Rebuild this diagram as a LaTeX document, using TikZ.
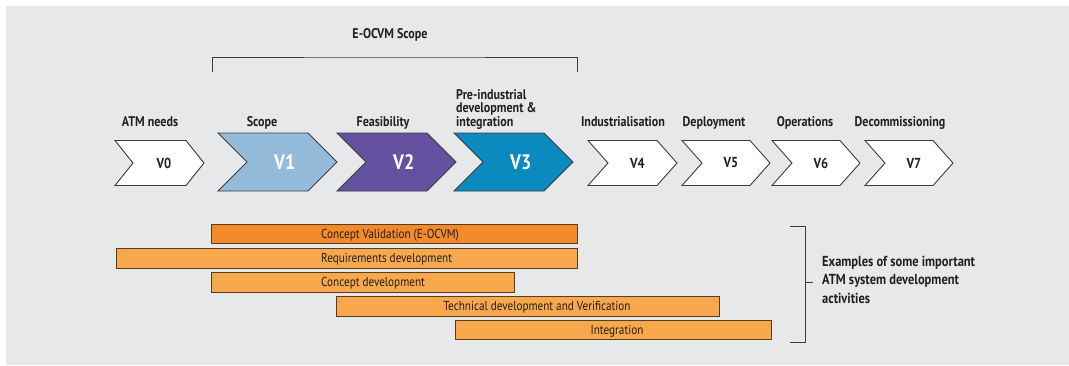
\documentclass[tikz,border=0pt]{standalone}
\usepackage{fontspec}
\setmainfont{PT Sans}[FakeStretch=0.86]
\usetikzlibrary{positioning}

\definecolor{panel}{HTML}{E7E8EA}
\definecolor{edge}{HTML}{3C3C3C}
\definecolor{vlight}{HTML}{94BBDA}
\definecolor{vpurple}{HTML}{6452A0}
\definecolor{vteal}{HTML}{0A8ABF}
\definecolor{bardark}{HTML}{F28A2A}
\definecolor{barlight}{HTML}{F8A84C}
\definecolor{barline}{HTML}{5A3C1E}
\definecolor{ink}{HTML}{231F20}

% #1 name, #2 left x, #3 tip x, #4 top y, #5 bottom y, #6 depth, #7 style, #8 label
\newcommand{\chevronpath}[8]{%
  \draw[#7] (#2,#4) -- ({#3-#6},#4) -- (#3,{(#4+#5)/2}) -- ({#3-#6},#5)
    -- (#2,#5) -- ({#2+#6},{(#4+#5)/2}) -- cycle;
  \node[chevlabel] (#1) at ({(#2+#3)/2+#6/4},{(#4+#5)/2}) {#8};
}

\tikzset{
  chevsmall/.style={draw=edge, line width=0.9pt, fill=white, line join=miter},
  chevbig/.style={draw=edge, line width=0.9pt, line join=miter},
  chevlabel/.style={inner sep=0pt, font=\bfseries},
  phase/.style={anchor=base, inner sep=0pt, font=\fontsize{14}{14}\selectfont\bfseries, text=ink},
  bar/.style={draw=barline, line width=0.9pt, fill=barlight},
  bartext/.style={anchor=base, inner sep=0pt, font=\fontsize{13}{13}\selectfont, text=ink},
  bracketline/.style={draw=edge, line width=0.9pt},
}

\begin{document}
\begin{tikzpicture}[x=1pt, y=-1pt]
\useasboundingbox (0,0) rectangle (1069,365);
\fill[white] (0,0) rectangle (1069,365);
\fill[panel] (6,6) rectangle (1069,365);

% scope bracket over V1..V3
\node[phase] (scope) at (390,38) {E-OCVM Scope};
\coordinate (sl) at (212,72);
\coordinate (sr) at (577,72);
\draw[bracketline] (sl) |- (394.5,57) -| (sr);

% phase labels
\node[phase] (l0) at (150,126) {ATM needs};
\node[phase] (l1) at (262,126) {Scope};
\node[phase] (l2) at (383,126) {Feasibility};
\node[phase, anchor=base west, align=left, font=\fontsize{14}{13.5}\selectfont\bfseries] (l3) at (456,126)
  {Pre-industrial\\development \&\\integration};
\node[phase] (l4) at (623,126) {Industrialisation};
\node[phase] (l5) at (714,126) {Deployment};
\node[phase] (l6) at (805,126) {Operations};
\node[phase] (l7) at (900,126) {Decommissioning};

% phase chevrons
\chevronpath{v0}{115}{204}{140.5}{185.5}{18}{chevsmall}{\fontsize{14.5}{14}\selectfont\color{ink}V0}
\chevronpath{v1}{218}{337}{133}{191}{29}{chevbig, fill=vlight}{\fontsize{21}{21}\selectfont\color{white}V1}
\chevronpath{v2}{337}{456}{133}{191}{29}{chevbig, fill=vpurple}{\fontsize{21}{21}\selectfont\color{white}V2}
\chevronpath{v3}{454}{573}{133}{191}{29}{chevbig, fill=vteal}{\fontsize{21}{21}\selectfont\color{white}V3}
\chevronpath{v4}{588}{677}{140.5}{185.5}{20}{chevsmall}{\fontsize{14.5}{14}\selectfont\color{ink}V4}
\chevronpath{v5}{682}{770}{140.5}{185.5}{20}{chevsmall}{\fontsize{14.5}{14}\selectfont\color{ink}V5}
\chevronpath{v6}{772}{860}{140.5}{185.5}{20}{chevsmall}{\fontsize{14.5}{14}\selectfont\color{ink}V6}
\chevronpath{v7}{865}{953}{140.5}{185.5}{20}{chevsmall}{\fontsize{14.5}{14}\selectfont\color{ink}V7}

% development activity bars
\draw[bar, fill=bardark] (211,224) rectangle (577,243);
\node[bartext, anchor=base west] (a1) at (321,238.5) {Concept Validation (E-OCVM)};
\draw[bar] (116,248.5) rectangle (577,268);
\node[bartext, anchor=base west] (a2) at (321,262.5) {Requirements development};
\draw[bar] (211,272.5) rectangle (514,292);
\node[bartext, anchor=base west] (a3) at (321,286.5) {Concept development};
\draw[bar] (336,296.5) rectangle (719,316);
\node[bartext] (a4) at (537,310.5) {Technical development and Verification};
\draw[bar] (455,320.5) rectangle (771,339.5);
\node[bartext] (a5) at (617,334.5) {Integration};

% bracket grouping the activities
\coordinate (bt) at (790,226.5);
\coordinate (bb) at (790,342.5);
\coordinate (bm) at (813,282);
\draw[bracketline] (bt) -- (805,226.5) -- (805,342.5) -- (bb);
\draw[bracketline] (805,282) -- (bm);
\node[phase, anchor=base west, align=left, font=\fontsize{14.5}{18.2}\selectfont\bfseries] (note) at (822,303)
  {Examples of some important\\ATM system development\\activities};
\end{tikzpicture}
\end{document}
